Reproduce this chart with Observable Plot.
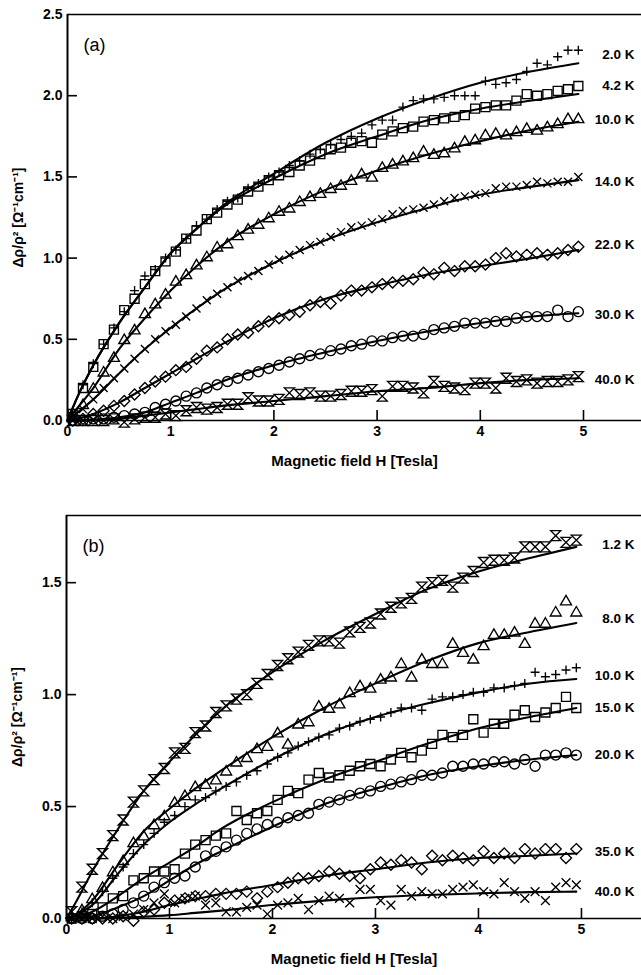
<!DOCTYPE html>
<html><head><meta charset="utf-8">
<script src="https://cdn.jsdelivr.net/npm/d3@7"></script>
<script src="https://cdn.jsdelivr.net/npm/@observablehq/plot@0.6"></script>
<style>body{margin:0;background:#fff}#c svg{display:block}</style>
</head><body><div id="c"></div>
<script>
// ---- data ----
const fieldH = [0.05,0.15,0.25,0.35,0.45,0.55,0.65,0.75,0.85,0.95,1.05,1.15,1.25,1.35,1.45,1.55,1.65,1.75,1.85,1.95,2.05,2.15,2.25,2.35,2.45,2.55,2.65,2.75,2.85,2.95,3.05,3.15,3.25,3.35,3.45,3.55,3.65,3.75,3.85,3.95,4.05,4.15,4.25,4.35,4.45,4.55,4.65,4.75,4.85,4.95];
const fitH = [0,0.1,0.25,0.5,0.75,1,1.25,1.5,2,2.5,3,3.5,4,4.5,4.95];
const xTicks = [0,1,2,3,4,5];
const yTicksA = [0,0.5,1,1.5,2,2.5];
const yTicksB = [0,0.5,1,1.5];

// panel (a)
const labelsA = ["2.0 K","4.2 K","10.0 K","14.0 K","22.0 K","30.0 K","40.0 K"];
const labelYA = [2.25,2.06,1.85,1.47,1.08,0.65,0.25];
const a2K = [0.05,0.22,0.35,0.47,0.57,0.67,0.80,0.89,0.93,1.00,1.05,1.12,1.20,1.24,1.30,1.35,1.37,1.43,1.46,1.50,1.53,1.57,1.60,1.64,1.67,1.70,1.73,1.75,1.77,1.82,1.85,1.85,1.93,1.97,1.98,1.98,1.99,2.00,2.00,2.00,2.09,2.07,2.08,2.10,2.15,2.20,2.19,2.24,2.28,2.28];
const a42K = [0.04,0.20,0.33,0.47,0.56,0.68,0.75,0.84,0.92,0.98,1.04,1.12,1.17,1.24,1.28,1.33,1.36,1.41,1.44,1.48,1.51,1.53,1.57,1.60,1.64,1.67,1.68,1.71,1.72,1.71,1.76,1.78,1.80,1.81,1.84,1.85,1.86,1.87,1.88,1.92,1.93,1.94,1.94,1.97,2.01,2.00,2.01,2.03,2.04,2.06];
const a10K = [0.02,0.10,0.20,0.30,0.39,0.50,0.56,0.66,0.72,0.78,0.86,0.90,0.96,1.01,1.07,1.09,1.14,1.18,1.21,1.25,1.29,1.31,1.35,1.38,1.40,1.43,1.45,1.48,1.52,1.50,1.56,1.58,1.60,1.62,1.66,1.64,1.65,1.68,1.72,1.73,1.76,1.77,1.76,1.78,1.80,1.79,1.81,1.83,1.86,1.86];
const a14K = [0.01,0.07,0.13,0.20,0.26,0.32,0.38,0.44,0.50,0.55,0.59,0.64,0.69,0.74,0.78,0.82,0.86,0.89,0.92,0.96,0.99,1.02,1.05,1.08,1.10,1.13,1.16,1.19,1.20,1.22,1.24,1.27,1.29,1.30,1.31,1.33,1.35,1.37,1.38,1.39,1.40,1.43,1.44,1.44,1.45,1.47,1.46,1.47,1.47,1.50];
const a22K = [0.00,0.01,0.04,0.06,0.09,0.12,0.16,0.20,0.24,0.27,0.31,0.33,0.38,0.43,0.45,0.50,0.53,0.54,0.58,0.61,0.63,0.65,0.67,0.71,0.73,0.72,0.77,0.80,0.80,0.82,0.84,0.85,0.86,0.87,0.91,0.90,0.94,0.92,0.95,0.95,0.96,1.00,1.03,1.01,1.02,1.03,1.02,1.03,1.05,1.07];
const a30K = [0.00,0.00,0.01,0.01,0.02,0.03,0.04,0.05,0.08,0.10,0.12,0.15,0.17,0.20,0.22,0.24,0.26,0.28,0.30,0.32,0.34,0.36,0.38,0.40,0.41,0.43,0.44,0.46,0.47,0.49,0.49,0.51,0.52,0.52,0.53,0.56,0.57,0.58,0.60,0.60,0.60,0.61,0.61,0.63,0.64,0.64,0.64,0.68,0.64,0.67];
const a40K = [0.00,0.00,0.00,0.00,0.01,-0.01,0.01,0.02,0.02,0.04,0.03,0.06,0.08,0.07,0.08,0.10,0.10,0.14,0.12,0.12,0.13,0.17,0.16,0.17,0.15,0.15,0.16,0.18,0.18,0.19,0.15,0.21,0.21,0.20,0.17,0.24,0.21,0.20,0.19,0.23,0.23,0.20,0.26,0.24,0.25,0.23,0.24,0.24,0.25,0.27];
const fa2K = [0,0.15,0.34,0.6,0.82,1.03,1.18,1.32,1.52,1.71,1.86,1.98,2.08,2.15,2.20];
const fa42K = [0,0.15,0.34,0.6,0.82,1.03,1.18,1.31,1.49,1.64,1.75,1.85,1.92,1.97,2.01];
const fa10K = [0,0.08,0.2,0.44,0.63,0.80,0.95,1.08,1.27,1.42,1.54,1.64,1.72,1.79,1.84];
const fa14K = [0,0.05,0.13,0.29,0.44,0.57,0.69,0.80,0.97,1.11,1.22,1.31,1.39,1.44,1.48];
const fa22K = [0,0.01,0.04,0.11,0.2,0.29,0.38,0.47,0.63,0.75,0.83,0.90,0.95,1.0,1.05];
const fa30K = [0,0,0.005,0.02,0.05,0.11,0.17,0.24,0.34,0.42,0.49,0.55,0.60,0.64,0.66];
const fa40K = [0,0,0,0.01,0.03,0.05,0.07,0.09,0.12,0.15,0.18,0.20,0.23,0.25,0.26];

// panel (b)
const labelsB = ["1.2 K","8.0 K","10.0 K","15.0 K","20.0 K","35.0 K","40.0 K"];
const labelYB = [1.67,1.34,1.085,0.94,0.73,0.30,0.12];
const b12K = [0.03,0.14,0.22,0.29,0.37,0.44,0.52,0.57,0.62,0.67,0.74,0.76,0.83,0.86,0.92,0.95,0.98,1.00,1.05,1.09,1.13,1.16,1.19,1.22,1.24,1.24,1.23,1.28,1.30,1.32,1.36,1.39,1.41,1.43,1.48,1.50,1.51,1.48,1.52,1.55,1.59,1.60,1.60,1.61,1.66,1.66,1.66,1.71,1.68,1.69];
const b8K = [0.01,0.04,0.09,0.14,0.21,0.26,0.34,0.37,0.42,0.46,0.52,0.55,0.59,0.60,0.62,0.66,0.70,0.72,0.76,0.77,0.83,0.78,0.87,0.88,0.95,0.94,0.96,1.01,1.04,1.03,1.07,1.08,1.14,1.08,1.16,1.14,1.14,1.23,1.19,1.16,1.22,1.27,1.27,1.28,1.23,1.32,1.32,1.37,1.42,1.37];
const b10K = [0.00,0.03,0.07,0.12,0.18,0.23,0.29,0.33,0.38,0.43,0.46,0.50,0.53,0.54,0.57,0.59,0.61,0.64,0.66,0.69,0.72,0.74,0.77,0.79,0.81,0.82,0.85,0.86,0.88,0.89,0.90,0.92,0.94,0.94,0.93,0.98,0.99,0.99,1.00,1.01,1.01,1.03,1.03,1.04,1.05,1.10,1.08,1.09,1.11,1.12];
const b15K = [0.00,0.01,0.02,0.05,0.09,0.10,0.17,0.18,0.21,0.21,0.22,0.29,0.33,0.35,0.37,0.38,0.48,0.44,0.47,0.48,0.53,0.57,0.56,0.62,0.65,0.63,0.64,0.66,0.68,0.69,0.68,0.71,0.74,0.72,0.75,0.78,0.82,0.81,0.82,0.89,0.83,0.87,0.87,0.91,0.93,0.90,0.92,0.94,0.99,0.94];
const b20K = [0.00,0.00,0.00,0.01,0.02,0.04,0.07,0.10,0.14,0.16,0.18,0.19,0.23,0.28,0.30,0.32,0.35,0.38,0.40,0.42,0.43,0.45,0.46,0.47,0.51,0.52,0.53,0.55,0.56,0.57,0.59,0.60,0.61,0.62,0.64,0.64,0.65,0.68,0.68,0.69,0.69,0.70,0.70,0.69,0.71,0.68,0.73,0.73,0.74,0.73];
const b35K = [0.00,0.00,0.00,0.00,0.00,0.01,-0.01,0.03,0.04,0.07,0.08,0.09,0.10,0.10,0.11,0.11,0.11,0.12,0.09,0.12,0.14,0.16,0.18,0.18,0.19,0.21,0.20,0.19,0.18,0.22,0.25,0.24,0.26,0.25,0.22,0.28,0.26,0.28,0.27,0.26,0.30,0.27,0.29,0.27,0.31,0.29,0.31,0.31,0.27,0.31];
const b40K = [0.00,0.00,0.00,0.01,0.00,0.01,0.02,0.04,0.07,0.11,0.07,0.09,0.10,0.06,0.07,0.03,0.03,0.05,0.06,0.02,0.06,0.07,0.09,0.04,0.08,0.10,0.09,0.07,0.13,0.13,0.08,0.06,0.13,0.10,0.12,0.11,0.11,0.13,0.14,0.15,0.12,0.11,0.16,0.12,0.09,0.12,0.08,0.14,0.16,0.15];
const fb12K = [0,0.08,0.21,0.40,0.57,0.70,0.82,0.93,1.10,1.24,1.36,1.47,1.55,1.61,1.66];
const fb8K = [0,0.02,0.08,0.24,0.39,0.49,0.58,0.66,0.81,0.94,1.05,1.15,1.23,1.28,1.32];
const fb10K = [0,0.02,0.06,0.2,0.33,0.43,0.51,0.58,0.71,0.82,0.90,0.96,1.01,1.05,1.07];
const fb15K = [0,0.005,0.03,0.10,0.18,0.25,0.32,0.40,0.52,0.62,0.70,0.78,0.85,0.90,0.94];
const fb20K = [0,0,0.01,0.05,0.10,0.17,0.24,0.30,0.41,0.51,0.58,0.64,0.68,0.71,0.73];
const fb35K = [0,0,0,0.01,0.03,0.06,0.085,0.11,0.15,0.19,0.22,0.25,0.27,0.28,0.29];
const fb40K = [0,0,0,0.003,0.008,0.015,0.025,0.035,0.06,0.08,0.095,0.105,0.112,0.118,0.12];

const xLabel = "Magnetic field H [Tesla]";
const yLabel = "Δρ/ρ² [Ω⁻¹cm⁻¹]";

// ---- marker shapes ----
const sym = f => ({draw(c, size){ f(c, Math.sqrt(size / Math.PI)); }});
const plus = sym((c,r)=>{c.moveTo(-r,0);c.lineTo(r,0);c.moveTo(0,-r);c.lineTo(0,r);});
const times = sym((c,r)=>{const s=r*0.8;c.moveTo(-s,-s);c.lineTo(s,s);c.moveTo(s,-s);c.lineTo(-s,s);});
const square = sym((c,r)=>{const s=r*0.9;c.rect(-s,-s,2*s,2*s);});
const circle = sym((c,r)=>{c.moveTo(r,0);c.arc(0,0,r,0,2*Math.PI);});
const triangle = sym((c,r)=>{c.moveTo(0,-r*1.05);c.lineTo(r*1.1,r*0.85);c.lineTo(-r*1.1,r*0.85);c.closePath();});
const diamond = sym((c,r)=>{c.moveTo(0,-r);c.lineTo(r,0);c.lineTo(0,r);c.lineTo(-r,0);c.closePath();});
const hourglass = sym((c,r)=>{c.moveTo(-r,-r);c.lineTo(r,-r);c.lineTo(-r,r);c.lineTo(r,r);c.closePath();});

function panel(cfg) {
  const {height, mt, mb, ml, xMax, yMax, yTicks, tag, labels, labelY, pts, fits, syms, radii} = cfg;
  const width = 641, fh = height - mt - mb, fw = width - ml;
  const marks = [];
  fits.forEach(f => marks.push(Plot.line(fitH.map((h,j)=>({h, v:f[j]})), {x:"h", y:"v", curve:"monotone-x", stroke:"#000", strokeWidth:2.1})));
  pts.forEach((p,i) => marks.push(Plot.dot(fieldH.map((h,j)=>({h, v:p[j]})), {x:"h", y:"v", symbol:syms[i], r:radii[i], stroke:"#000", fill:"none", strokeWidth:1.35})));
  marks.push(
    Plot.ruleX([0], {strokeWidth:2}),
    Plot.ruleY([0], {strokeWidth:1.7}),
    Plot.ruleY([yMax], {strokeWidth:1.7}),
    Plot.ruleY(yTicks.filter(t => t > 0 && t < yMax), {y:d=>d, insetRight: fw - 10, strokeWidth:1.6}),
    Plot.ruleX(xTicks.filter(t => t > 0), {x:d=>d, insetTop: fh - 10, strokeWidth:1.6}),
    Plot.axisY({ticks: yTicks, tickSize:0, tickPadding:5, tickFormat:d3.format(".1f"), label:null, fontSize:14, fontWeight:"bold"}),
    Plot.axisX({ticks: xTicks, tickSize:0, tickPadding:6, tickFormat:d3.format("d"), label:null, fontSize:14, fontWeight:"bold"}),
    Plot.text(labels, {text:d=>d, y:(d,i)=>labelY[i], frameAnchor:"right", dx:-7, textAnchor:"end", fontSize:13.5, fontWeight:"bold"}),
    Plot.text([tag], {text:d=>d, frameAnchor:"top-left", dx:16, dy:31, textAnchor:"start", lineAnchor:"middle", fontSize:18, fontWeight:"normal"}),
    Plot.text([yLabel], {text:d=>d, frameAnchor:"left", dx:-49, rotate:-90, textAnchor:"middle", lineAnchor:"middle", fontSize:14, fontWeight:"bold"}),
    Plot.text([xLabel], {text:d=>d, frameAnchor:"bottom", dy:45, textAnchor:"middle", fontSize:15, fontWeight:"bold"})
  );
  return Plot.plot({
    width, height, marginTop:mt, marginBottom:mb, marginLeft:ml, marginRight:0,
    x:{domain:[0,xMax]}, y:{domain:[0,yMax]},
    style:{fontFamily:"'Liberation Sans', Arial, sans-serif", color:"#000", background:"#fff", overflow:"visible"},
    marks
  });
}

const c = document.getElementById("c");
c.append(panel({height:487, mt:14, mb:67, ml:67, xMax:5.562, yMax:2.5, yTicks:yTicksA, tag:"(a)",
  labels:labelsA, labelY:labelYA, pts:[a2K,a42K,a10K,a14K,a22K,a30K,a40K], fits:[fa2K,fa42K,fa10K,fa14K,fa22K,fa30K,fa40K],
  syms:[plus,square,triangle,times,diamond,circle,hourglass], radii:[4.5,5,5,5,5.5,5,5]}));
c.append(panel({height:488, mt:28, mb:57, ml:66, xMax:5.583, yMax:1.8, yTicks:yTicksB, tag:"(b)",
  labels:labelsB, labelY:labelYB, pts:[b12K,b8K,b10K,b15K,b20K,b35K,b40K], fits:[fb12K,fb8K,fb10K,fb15K,fb20K,fb35K,fb40K],
  syms:[hourglass,triangle,plus,square,circle,diamond,times], radii:[5,5,4.5,5,5,5.5,5.5]}));
</script></body></html>
